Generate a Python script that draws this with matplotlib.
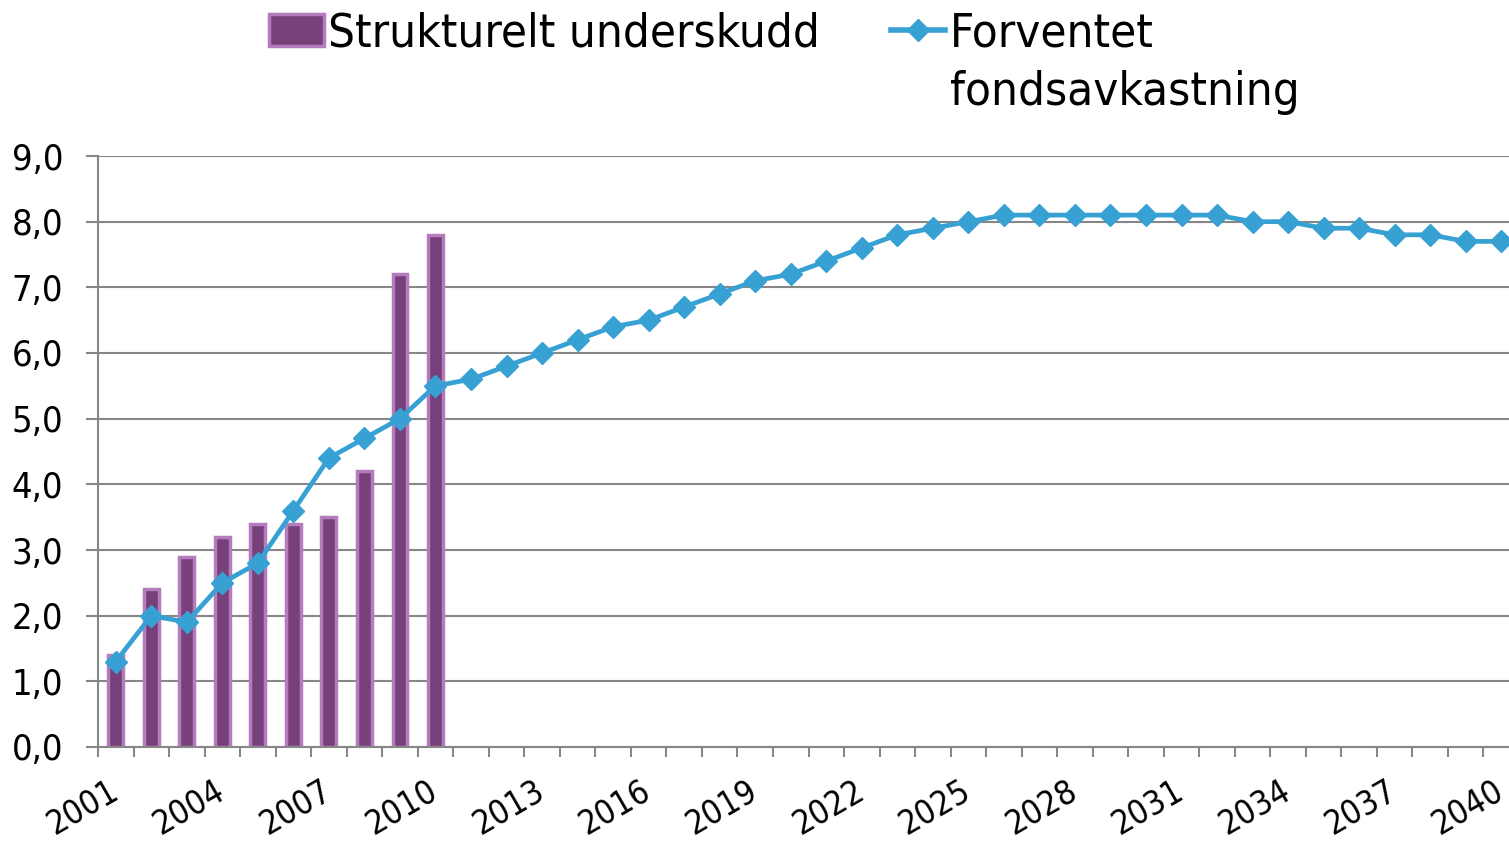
import matplotlib
matplotlib.use("Agg")
import matplotlib.pyplot as plt
from matplotlib.patches import Patch
from matplotlib.lines import Line2D
import numpy as np

years = list(range(2001, 2041))
bar_years = list(range(2001, 2011))
underskudd = [1.4, 2.4, 2.9, 3.2, 3.4, 3.4, 3.5, 4.2, 7.2, 7.8]
avkastning = [1.3, 2.0, 1.9, 2.5, 2.8, 3.6, 4.4, 4.7, 5.0, 5.5,
              5.6, 5.8, 6.0, 6.2, 6.4, 6.5, 6.7, 6.9, 7.1, 7.2,
              7.4, 7.6, 7.8, 7.9, 8.0, 8.1, 8.1, 8.1, 8.1, 8.1,
              8.1, 8.1, 8.0, 8.0, 7.9, 7.9, 7.8, 7.8, 7.7, 7.7]
yticks = [0, 1, 2, 3, 4, 5, 6, 7, 8, 9]
label_every = 3

plt.rcParams['font.family'] = ['DejaVu Sans']
FONT = dict(family='DejaVu Sans', stretch='condensed')

W, H = 1509, 842
fig = plt.figure(figsize=(W / 100, H / 100), dpi=100)
left, right, top, bottom = 98, 1519, 156, 747
ax = fig.add_axes([left / W, 1 - bottom / H, (right - left) / W, (bottom - top) / H])

bar_color = '#77407a'
bar_edge = '#b57cbd'
line_color = '#37a1d4'
grid_color = '#878787'

xb = [years.index(y) for y in bar_years]
x = np.arange(len(years))
ax.bar(xb, underskudd, width=0.42, color=bar_color, edgecolor=bar_edge, linewidth=2.5, zorder=2)
ax.plot(x, avkastning, color=line_color, lw=3.4, marker='D', markersize=11, zorder=3)

ax.set_xlim(-0.5, len(years) - 0.5)
ax.set_ylim(0, 9)
ax.set_yticks(yticks)
ax.set_yticklabels([f"{v:.1f}".replace('.', ',') for v in yticks], fontsize=26, **FONT)
ax.yaxis.grid(True, color=grid_color, lw=1.5, zorder=0)
ax.set_axisbelow(True)

lab_pos = [i for i in range(len(years)) if i % label_every == 0]
ax.set_xticks(lab_pos)
ax.set_xticklabels([str(years[i]) for i in lab_pos], rotation=30, ha='right',
                   va='center', rotation_mode='anchor', fontsize=24, **FONT)
ax.set_xticks(np.arange(-0.5, len(years), 1.0), minor=True)
ax.tick_params(axis='x', which='major', length=0, pad=30)
ax.tick_params(axis='x', which='minor', length=7, width=1.5, color=grid_color, direction='out')
ax.tick_params(axis='y', length=8.5, width=1.5, color=grid_color, direction='out', pad=16.5)
for s in ['top', 'right']:
    ax.spines[s].set_visible(False)
for s in ['left', 'bottom']:
    ax.spines[s].set_color(grid_color)
    ax.spines[s].set_linewidth(1.5)

handles = [Patch(facecolor=bar_color, edgecolor=bar_edge, linewidth=2.5),
           Line2D([], [], color=line_color, lw=4, marker='D', markersize=11)]
leg = fig.legend(handles, ['Strukturelt underskudd', 'Forventet'],
                 loc='upper left', bbox_to_anchor=(241 / W, 1 + 17 / H), ncol=2,
                 frameon=False, prop=dict(size=34, **FONT),
                 handlelength=1.15, handleheight=0.66, handletextpad=0.1,
                 columnspacing=1.5, borderpad=0.1)
fig.canvas.draw()
t = leg.get_texts()[1]
bb = t.get_window_extent()
fig.text(bb.x0 / W, (bb.y0 - 59) / H, 'fondsavkastning', fontsize=34, ha='left', va='bottom', **FONT)

fig.savefig('out.png', dpi=100)
